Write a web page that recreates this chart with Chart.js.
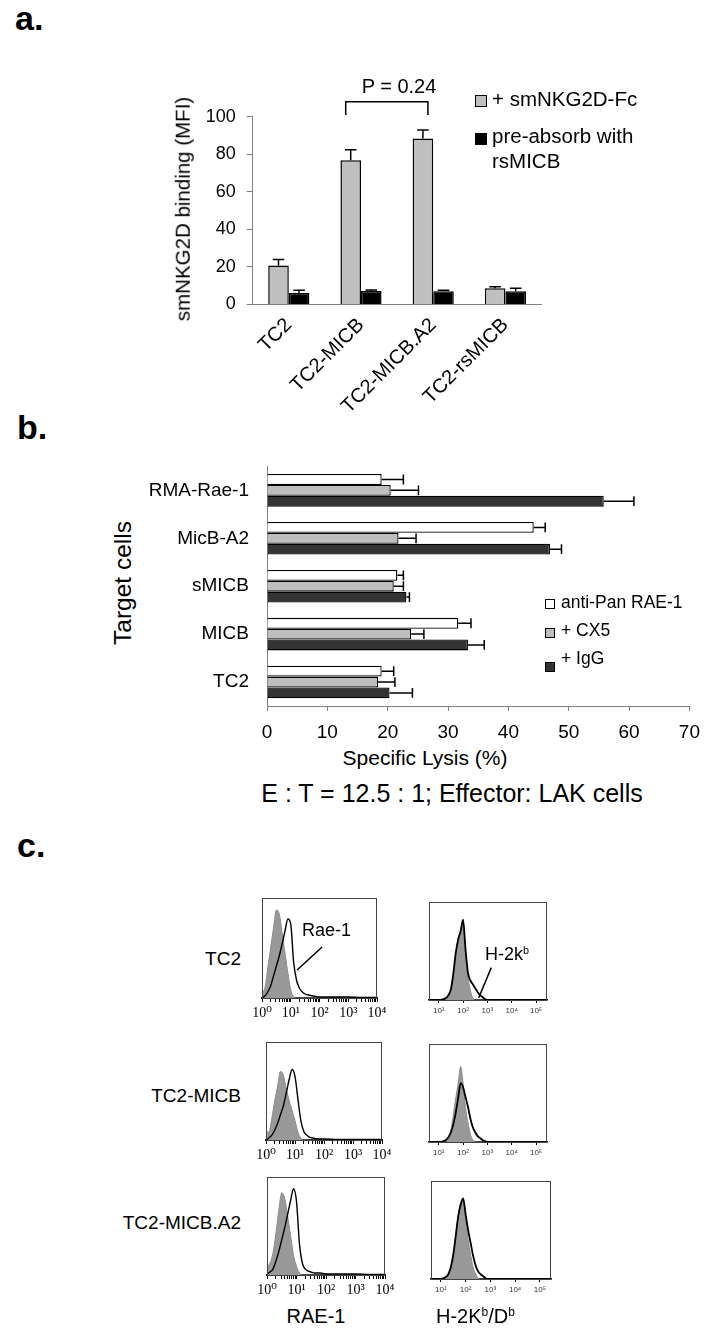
<!DOCTYPE html>
<html>
<head>
<meta charset="utf-8">
<script src="https://cdn.jsdelivr.net/npm/chart.js@4.4.1/dist/chart.umd.min.js"></script>
<style>
  body { margin: 0; background: #fff; }
  #page { position: relative; width: 726px; height: 1342px; overflow: hidden;
          font-family: "Liberation Sans", Arial, sans-serif; color: #000; }
  canvas { position: absolute; }
  .t { position: absolute; white-space: nowrap; line-height: 1; }
  .panel { font-weight: bold; font-size: 34px; }
  .rot { transform: translate(-50%, -50%) rotate(-90deg); }
  .ctr { transform: translateX(-50%); }
  .sq { position: absolute; border: 1px solid #000; box-sizing: border-box; }
  sup { font-size: 0.6em; vertical-align: 0.55em; line-height: 0; }
</style>
</head>
<body>
<div id="page">
  <!-- panel labels -->
  <div class="t panel" style="left:15px; top:1px;">a.</div>
  <div class="t panel" style="left:17px; top:410px;">b.</div>
  <div class="t panel" style="left:17px; top:828px;">c.</div>

  <!-- panel a -->
  <canvas id="chartA" width="400" height="330" style="left:150px; top:95px;"></canvas>
  <div class="t rot" style="left:183px; top:209px; font-size:20.5px;">smNKG2D binding (MFI)</div>
  <div class="t ctr" style="left:399px; top:76px; font-size:20px;">P = 0.24</div>
  <div class="sq" style="left:475px; top:95px; width:12px; height:12px; background:#c0c0c0;"></div>
  <div class="sq" style="left:475px; top:133px; width:12px; height:12px; background:#000;"></div>
  <div class="t" style="left:492px; top:89px; font-size:20.5px;">+ smNKG2D-Fc</div>
  <div class="t" style="left:492px; top:126px; font-size:20.5px;">pre-absorb with</div>
  <div class="t" style="left:492px; top:151px; font-size:20.5px;">rsMICB</div>

  <!-- panel b -->
  <canvas id="chartB" width="560" height="300" style="left:150px; top:445px;"></canvas>
  <div class="t rot" style="left:123px; top:583px; font-size:24.5px;">Target cells</div>
  <div class="t ctr" style="left:425px; top:747px; font-size:21px;">Specific Lysis (%)</div>
  <div class="t ctr" style="left:452px; top:781px; font-size:25px;">E : T = 12.5 : 1; Effector: LAK cells</div>
  <div class="sq" style="left:545px; top:599px; width:10px; height:10px; background:#fff;"></div>
  <div class="sq" style="left:545px; top:628px; width:10px; height:10px; background:#bdbdbd;"></div>
  <div class="sq" style="left:545px; top:662px; width:10px; height:10px; background:#333;"></div>
  <div class="t" style="left:561px; top:594px; font-size:17.5px;">anti-Pan RAE-1</div>
  <div class="t" style="left:561px; top:622px; font-size:17.5px;">+ CX5</div>
  <div class="t" style="left:561px; top:650px; font-size:17.5px;">+ IgG</div>

  <!-- panel c -->
  <canvas id="h1" width="1" height="1"></canvas>
  <canvas id="h2" width="1" height="1"></canvas>
  <canvas id="h3" width="1" height="1"></canvas>
  <canvas id="h4" width="1" height="1"></canvas>
  <canvas id="h5" width="1" height="1"></canvas>
  <canvas id="h6" width="1" height="1"></canvas>
  <div class="t" style="right:485px; top:949px; font-size:19px;">TC2</div>
  <div class="t" style="right:485px; top:1086px; font-size:19px;">TC2-MICB</div>
  <div class="t" style="right:485px; top:1213px; font-size:19px;">TC2-MICB.A2</div>
  <div class="t" style="left:302px; top:921px; font-size:18px;">Rae-1</div>
  <div class="t" style="left:485px; top:945px; font-size:18px;">H-2k<sup>b</sup></div>
  <div class="t ctr" style="left:316px; top:1306px; font-size:20px;">RAE-1</div>
  <div class="t" style="left:436px; top:1306px; font-size:20px;">H-2K<sup>b</sup>/D<sup>b</sup></div>
</div>

<script>
// ---- panel a: smNKG2D binding (MFI)
const aCategories = ['TC2', 'TC2-MICB', 'TC2-MICB.A2', 'TC2-rsMICB'];
const aBinding = [20.8, 76.8, 88.5, 8.7];
const aBindingErr = [24.0, 82.4, 93.0, 9.4];
const aPreAbsorb = [6.2, 7.2, 7.1, 7.0];
const aPreAbsorbErr = [7.6, 7.7, 7.6, 8.6];
const aTicks = [0, 20, 40, 60, 80, 100];

// ---- panel b: specific lysis (%)
const bTargets = ['RMA-Rae-1', 'MicB-A2', 'sMICB', 'MICB', 'TC2'];
const bAntiPan = [19.0, 44.2, 21.6, 31.7, 19.0];
const bAntiPanErr = [22.6, 46.1, 22.6, 33.8, 21.0];
const bCX5 = [20.5, 21.8, 21.0, 23.9, 18.4];
const bCX5Err = [25.1, 24.7, 22.6, 26.0, 21.2];
const bIgG = [55.8, 46.9, 23.1, 33.3, 20.3];
const bIgGErr = [60.8, 48.8, 23.6, 36.0, 24.1];
const bTicks = [0, 10, 20, 30, 40, 50, 60, 70];

// ---- panel c: histograms, x in log10 units, y in % of max height
const raeLog = [0, 0.1, 0.2, 0.3, 0.4, 0.5, 0.6, 0.7, 0.8, 0.9, 1.0, 1.1, 1.2, 1.3, 1.4, 1.5, 1.6, 1.8, 2.0, 2.5, 3.0, 3.5, 4.0];
const tc2RaeIso  = [6, 10, 30, 50, 70, 88, 84, 65, 45, 25, 8, 1, 0, 0, 0, 0, 0, 0, 0, 0, 0, 0, 0];
const tc2Rae     = [0, 2, 6, 12, 22, 32, 42, 54, 67, 79, 74, 36, 18, 10, 6, 4, 3, 2, 1, 1, 1, 0.5, 0.5];
const micbRaeIso = [10, 8, 22, 40, 55, 70, 66, 52, 40, 30, 20, 8, 2, 0, 0, 0, 0, 0, 0, 0, 0, 0, 0];
const micbRae    = [0, 2, 5, 10, 17, 26, 35, 48, 62, 72, 65, 42, 20, 9, 5, 3, 2, 1, 1, 0.5, 0.5, 0.5, 0.5];
const a2RaeIso   = [9, 12, 22, 42, 66, 84, 78, 60, 40, 20, 9, 2, 0, 0, 0, 0, 0, 0, 0, 0, 0, 0, 0];
const a2Rae      = [1, 3, 6, 14, 24, 36, 48, 62, 76, 88, 75, 32, 12, 6, 4, 3, 2, 2, 1, 1, 1, 0.5, 0.5];
const raeMajor = [0, 1, 2, 3, 4];
const raeLabels = ['10\u2070', '10\u00b9', '10\u00b2', '10\u00b3', '10\u2074'];

const h2kLog = [0.6, 1.0, 1.2, 1.3, 1.4, 1.5, 1.6, 1.7, 1.8, 1.9, 2.0, 2.1, 2.2, 2.3, 2.4, 2.5, 2.6, 2.7, 2.8, 2.9, 3.0, 3.5, 4.0, 4.5, 5.0, 5.45];
const tc2H2kIso  = [0, 0, 0, 1, 3, 9, 25, 45, 62, 72, 80, 48, 24, 10, 2, 0, 0, 0, 0, 0, 0, 0, 0, 0, 0, 0];
const tc2H2k     = [0, 0, 1, 2, 5, 11, 27, 48, 62, 70, 82, 52, 28, 20, 16, 12, 8, 5, 3, 1, 0, 0, 0, 0, 0, 0];
const micbH2kIso = [0, 0, 0, 0, 3, 12, 28, 45, 60, 77, 60, 35, 20, 8, 2, 0, 0, 0, 0, 0, 0, 0, 0, 0, 0, 0];
const micbH2k    = [0, 0, 1, 2, 5, 10, 18, 30, 45, 60, 56, 46, 36, 24, 15, 10, 6, 4, 2, 1, 0, 0, 0, 0, 0, 0];
const a2H2kIso   = [0, 0, 1, 4, 10, 22, 45, 65, 78, 83, 62, 40, 25, 12, 5, 1, 0, 0, 0, 0, 0, 0, 0, 0, 0, 0];
const a2H2k      = [0, 0, 2, 5, 12, 25, 44, 64, 76, 82, 66, 50, 37, 24, 14, 8, 5, 3, 1, 0, 0, 0, 0, 0, 0, 0];
const h2kMajor = [1, 2, 3, 4, 5];
const h2kLabels = ['10\u00b9', '10\u00b2', '10\u00b3', '10\u2074', '10\u2075'];

Chart.defaults.font.family = '"Liberation Sans", Arial, sans-serif';
Chart.defaults.color = '#000';

// one-sided error bars read from dataset.errorBars
const errorBarPlugin = {
  id: 'errorBars',
  afterDatasetsDraw(chart) {
    const ctx = chart.ctx;
    const horizontal = chart.options.indexAxis === 'y';
    chart.data.datasets.forEach((ds, i) => {
      if (!ds.errorBars) return;
      const meta = chart.getDatasetMeta(i);
      const valueScale = horizontal ? chart.scales.x : chart.scales.y;
      ctx.save();
      ctx.strokeStyle = '#000';
      ctx.lineWidth = 1.5;
      meta.data.forEach((bar, j) => {
        const end = valueScale.getPixelForValue(ds.errorBars[j]);
        ctx.beginPath();
        if (horizontal) {
          const half = bar.height * 0.45;
          ctx.moveTo(bar.x, bar.y); ctx.lineTo(end, bar.y);
          ctx.moveTo(end, bar.y - half); ctx.lineTo(end, bar.y + half);
        } else {
          const half = bar.width * 0.28;
          ctx.moveTo(bar.x, bar.y); ctx.lineTo(bar.x, end);
          ctx.moveTo(bar.x - half, end); ctx.lineTo(bar.x + half, end);
        }
        ctx.stroke();
      });
      ctx.restore();
    });
  }
};

// significance bracket over two bars of panel a
const bracketPlugin = {
  id: 'bracket',
  afterDatasetsDraw(chart) {
    const meta = chart.getDatasetMeta(0);
    const y = chart.scales.y;
    const x1 = meta.data[1].x - 5, x2 = meta.data[2].x + 5;
    const top = y.getPixelForValue(108), leg = y.getPixelForValue(101);
    const ctx = chart.ctx;
    ctx.save();
    ctx.strokeStyle = '#000';
    ctx.lineWidth = 1.5;
    ctx.beginPath();
    ctx.moveTo(x1, leg); ctx.lineTo(x1, top); ctx.lineTo(x2, top); ctx.lineTo(x2, leg);
    ctx.stroke();
    ctx.restore();
  }
};

new Chart(document.getElementById('chartA'), {
  type: 'bar',
  data: {
    labels: aCategories,
    datasets: [
      { label: '+ smNKG2D-Fc', data: aBinding, errorBars: aBindingErr,
        backgroundColor: '#c0c0c0', borderColor: '#000', borderWidth: 1.5 },
      { label: 'pre-absorb with rsMICB', data: aPreAbsorb, errorBars: aPreAbsorbErr,
        backgroundColor: '#000', borderColor: '#000', borderWidth: 1.5 }
    ]
  },
  options: {
    responsive: false,
    animation: false,
    layout: { padding: { top: 20, right: 8.5, left: 0, bottom: 0 } },
    datasets: { bar: { categoryPercentage: 0.57, barPercentage: 1 } },
    plugins: { legend: { display: false }, tooltip: { enabled: false } },
    scales: {
      x: {
        grid: { display: false },
        border: { color: '#808080' },
        ticks: { font: { size: 20 }, minRotation: 45, maxRotation: 45, padding: 1, autoSkip: false },
        afterFit: s => { s.height = 120.5; }
      },
      y: {
        min: 0, max: 100,
        afterBuildTicks: s => { s.ticks = aTicks.map(v => ({ value: v })); },
        grid: { drawOnChartArea: false, tickLength: 6, color: '#808080' },
        border: { color: '#808080' },
        ticks: { font: { size: 18 }, padding: 11 },
        afterFit: s => { s.width = 102.7; }
      }
    }
  },
  plugins: [errorBarPlugin, bracketPlugin]
});

new Chart(document.getElementById('chartB'), {
  type: 'bar',
  data: {
    labels: bTargets,
    datasets: [
      { label: 'anti-Pan RAE-1', data: bAntiPan, errorBars: bAntiPanErr,
        backgroundColor: '#fff', borderColor: '#000', borderWidth: 1.3 },
      { label: '+ CX5', data: bCX5, errorBars: bCX5Err,
        backgroundColor: '#bdbdbd', borderColor: '#000', borderWidth: 1.3 },
      { label: '+ IgG', data: bIgG, errorBars: bIgGErr,
        backgroundColor: '#333', borderColor: '#000', borderWidth: 1.3 }
    ]
  },
  options: {
    indexAxis: 'y',
    responsive: false,
    animation: false,
    layout: { padding: { top: 17.3, right: 14.4, left: 0, bottom: 0 } },
    datasets: { bar: { categoryPercentage: 0.68, barPercentage: 1 } },
    plugins: { legend: { display: false }, tooltip: { enabled: false } },
    scales: {
      x: {
        min: 0, max: 70,
        afterBuildTicks: s => { s.ticks = bTicks.map(v => ({ value: v })); },
        grid: { drawOnChartArea: false, tickLength: 5, color: '#808080' },
        border: { color: '#808080' },
        ticks: { font: { size: 19 }, padding: 10 },
        afterFit: s => { s.height = 39; }
      },
      y: {
        grid: { display: false },
        border: { color: '#808080' },
        ticks: { font: { size: 19 }, padding: 10 },
        afterFit: s => { s.width = 117; }
      }
    }
  },
  plugins: [errorBarPlugin]
});

// frame around the histogram plot area, plus the optional label pointer
const framePlugin = {
  id: 'frame',
  afterDraw(chart) {
    const a = chart.chartArea, ctx = chart.ctx;
    ctx.save();
    ctx.strokeStyle = '#444';
    ctx.lineWidth = 1;
    ctx.strokeRect(a.left + 0.5, a.top + 0.5, a.right - a.left - 1, a.bottom - a.top);
    const p = chart.options.plugins.pointer;
    if (p && p.from) {
      const xs = chart.scales.x, ys = chart.scales.y;
      ctx.strokeStyle = '#000';
      ctx.lineWidth = 1.5;
      ctx.beginPath();
      ctx.moveTo(xs.getPixelForValue(p.from[0]), ys.getPixelForValue(p.from[1]));
      ctx.lineTo(xs.getPixelForValue(p.to[0]), ys.getPixelForValue(p.to[1]));
      ctx.stroke();
    }
    ctx.restore();
  }
};

function makeHist(id, box, xs, iso, stained, axis, pointer) {
  const cv = document.getElementById(id);
  cv.width = box.w + 32;
  cv.height = box.h + 4 + 30;
  cv.style.left = (box.x - 16) + 'px';
  cv.style.top = (box.y - 4) + 'px';
  const rae = axis === 'rae';
  const major = rae ? raeMajor : h2kMajor;
  const labels = rae ? raeLabels : h2kLabels;
  let tickVals = major.slice();
  if (rae) {
    tickVals = [];
    major.forEach(d => {
      for (let k = 1; k <= 9; k++) {
        const v = d + Math.log10(k);
        if (v <= 4) tickVals.push(v);
      }
    });
  }
  new Chart(cv, {
    type: 'line',
    data: {
      datasets: [
        { label: 'stained', data: xs.map((x, i) => ({ x: x, y: stained[i] })),
          borderColor: '#000', borderWidth: rae ? 1.4 : 1.8, fill: false, pointRadius: 0,
          cubicInterpolationMode: 'monotone', order: 1 },
        { label: 'isotype', data: xs.map((x, i) => ({ x: x, y: iso[i] })),
          borderColor: '#8c8c8c', backgroundColor: '#999', borderWidth: 1,
          fill: 'origin', pointRadius: 0, cubicInterpolationMode: 'monotone', order: 2 }
      ]
    },
    options: {
      responsive: false,
      animation: false,
      layout: { padding: { top: 4, left: 16, right: 16, bottom: 0 } },
      plugins: { legend: { display: false }, tooltip: { enabled: false }, pointer: pointer || {} },
      scales: {
        x: {
          type: 'linear',
          min: rae ? 0 : 0.6, max: rae ? 4 : 5.45,
          afterBuildTicks: s => { s.ticks = tickVals.map(v => ({ value: v })); },
          grid: { drawOnChartArea: false, tickLength: rae ? 4 : 3, color: '#000' },
          border: { color: '#000', width: rae ? 2 : 1.5 },
          ticks: {
            autoSkip: false, maxRotation: 0, padding: 3,
            color: rae ? '#000' : '#333',
            font: rae ? { family: '"Liberation Serif", "DejaVu Serif", serif', size: 14 }
                      : { size: 8 },
            callback: v => {
              const i = major.indexOf(v);
              return i >= 0 ? labels[i] : '';
            }
          },
          afterFit: s => { s.height = 30; }
        },
        y: { display: false, min: 0, max: 100 }
      }
    },
    plugins: [framePlugin]
  });
}

makeHist('h1', { x: 262, y: 898, w: 115, h: 100 }, raeLog, tc2RaeIso, tc2Rae, 'rae',
  { from: [1.22, 28], to: [2.09, 51] });
makeHist('h2', { x: 429, y: 902, w: 118, h: 98 }, h2kLog, tc2H2kIso, tc2H2k, 'h2k',
  { from: [2.64, 2], to: [3.16, 33] });
makeHist('h3', { x: 266, y: 1042, w: 116, h: 98 }, raeLog, micbRaeIso, micbRae, 'rae');
makeHist('h4', { x: 429, y: 1044, w: 118, h: 98 }, h2kLog, micbH2kIso, micbH2k, 'h2k');
makeHist('h5', { x: 267, y: 1177, w: 118, h: 98 }, raeLog, a2RaeIso, a2Rae, 'rae');
makeHist('h6', { x: 431, y: 1181, w: 120, h: 98 }, h2kLog, a2H2kIso, a2H2k, 'h2k');
</script>
</body>
</html>
